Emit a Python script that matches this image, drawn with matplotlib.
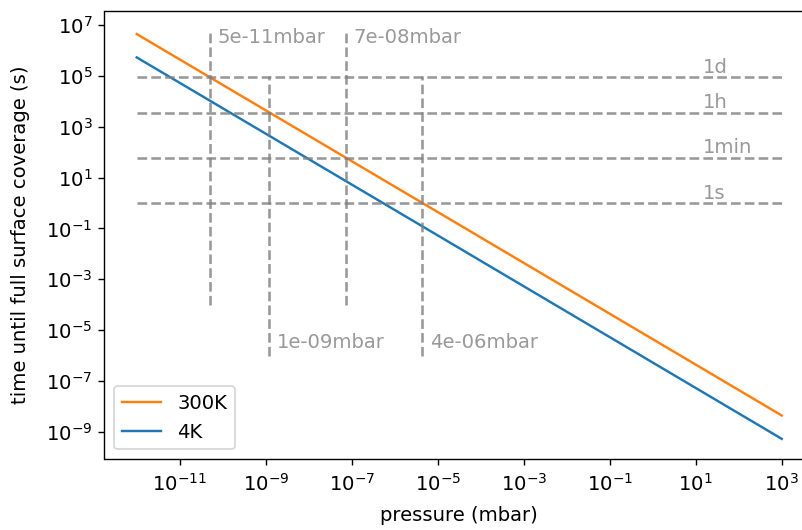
import matplotlib
matplotlib.use("Agg")
import matplotlib.pyplot as plt

# data
pressure_ends = [1e-12, 1e3]               # mbar
t_300K = [4.4e6, 4.4e-9]                   # s
t_4K = [5.3e5, 5.3e-10]                    # s

h_times = [1, 60, 3600, 86400]
h_labels = ["1s", "1min", "1h", "1d"]

v_pressures = [5.1e-11, 1.2e-9, 7.3e-8, 4.4e-6]
v_labels = ["5e-11mbar", "1e-09mbar", "7e-08mbar", "4e-06mbar"]
v_low = [1e-4, 1e-6, 1e-4, 1e-6]
v_high = [5e6, 1e5, 5e6, 1e5]
v_text_y = [1.9e6, 1.9e-6, 1.9e6, 1.9e-6]

DPI = 125
plt.rcParams["font.size"] = 11.3
fig = plt.figure(figsize=(802 / DPI, 530 / DPI), dpi=DPI)
W, H = 802, 530
ax = fig.add_axes([104.5 / W, (H - 459.3) / H, (814 - 104.5) / W, (459.3 - 11) / H])

l300, = ax.plot(pressure_ends, t_300K, color="#ff7f0e", lw=1.4, label="300K")
l4, = ax.plot(pressure_ends, t_4K, color="#1f77b4", lw=1.4, label="4K")

grey = "grey"
for t, lab in zip(h_times, h_labels):
    ax.plot(pressure_ends, [t, t], ls="--", color=grey, alpha=0.8)
    ax.text(15, t * 1.5, lab, color=grey, alpha=0.8)

for p, lab, lo, hi, ty in zip(v_pressures, v_labels, v_low, v_high, v_text_y):
    ax.plot([p, p], [lo, hi], ls="--", color=grey, alpha=0.8)
    ax.text(p * 1.5, ty, lab, color=grey, alpha=0.8)

ax.set_xscale("log")
ax.set_yscale("log")
ax.set_xlim(10 ** -12.75, 10 ** 3.75)
ax.set_ylim(10 ** -10.08, 10 ** 7.55)
ax.set_xticks([10.0 ** k for k in range(-11, 4, 2)])
ax.set_yticks([10.0 ** k for k in range(-9, 8, 2)])
ax.minorticks_off()
ax.tick_params(axis="x", pad=4.5)
ax.set_xlabel("pressure (mbar)", labelpad=6)
ax.set_ylabel("time until full surface coverage (s)", labelpad=9)
ax.legend(handles=[l300, l4], loc="lower left")

fig.savefig("out.png", dpi=DPI)
